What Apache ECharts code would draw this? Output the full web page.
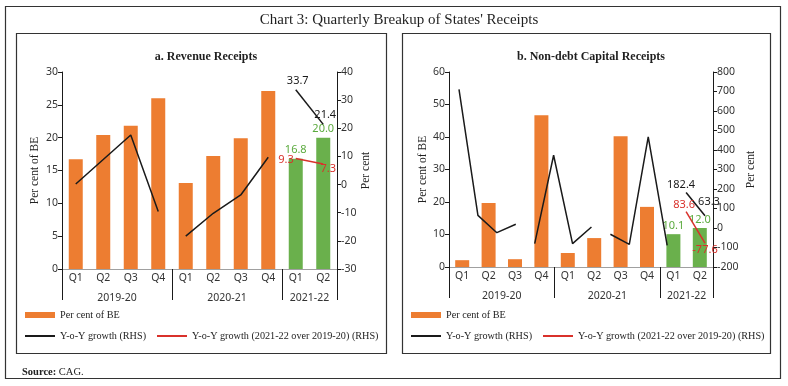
<!DOCTYPE html>
<html><head><meta charset="utf-8">
<script src="https://cdn.jsdelivr.net/npm/echarts@6/dist/echarts.min.js"></script>
<style>html,body{margin:0;padding:0;background:#fff}#c{width:788px;height:386px}</style>
</head><body><div id="c"></div>
<script>
// ---------- data ----------
const quarterLabels = ['Q1','Q2','Q3','Q4','Q1','Q2','Q3','Q4','Q1','Q2'];
const yearLabels = ['2019-20','2020-21','2021-22'];
const quartersPerYear = [4, 4, 2];

// a. Revenue Receipts
const revenueShareBE = [16.7, 20.4, 21.8, 26.0, 13.1, 17.2, 19.9, 27.1, 16.8, 20.0];
const revenueYoY = [0.2, 8.9, 17.6, -9.6, -18.3, -10.2, -3.7, 9.7, 33.7, 21.4];
const revenueYoYSegments = [4, 4, 2];
const revenueYoYOver2019 = [9.3, 7.3];
const revenueLeftTicks = [0, 5, 10, 15, 20, 25, 30];
const revenueRightTicks = [-30, -20, -10, 0, 10, 20, 30, 40];

// b. Non-debt Capital Receipts
const ndcShareBE = [2.1, 19.7, 2.4, 46.7, 4.3, 8.9, 40.2, 18.5, 10.1, 12.0];
const ndcYoY = [711, 65, -24, 19, -80, 373, -80, 5, -32, -84, 467, -89, 182.4, 63.3];
const ndcYoYSegments = [4, 4, 4, 2];
const ndcYoYOver2019 = [83.6, -77.6];
const ndcLeftTicks = [0, 10, 20, 30, 40, 50, 60];
const ndcRightTicks = [-200, -100, 0, 100, 200, 300, 400, 500, 600, 700, 800];

const legendBar = 'Per cent of BE';
const legendYoY = 'Y-o-Y growth (RHS)';
const legendYoY2 = 'Y-o-Y growth (2021-22 over 2019-20) (RHS)';

// ---------- style ----------
const SANS = 'Noto Sans';
const SERIF = 'Liberation Serif';
const ORANGE = '#ED7D31';
const GREEN = '#6AB04C';
const GREEN_TXT = '#5BAA3E';
const RED = '#D9312B';
const BLACK = '#1a1a1a';
const TICK_TXT = '#333';

const yearBounds = [0];
quartersPerYear.forEach(n => yearBounds.push(yearBounds[yearBounds.length - 1] + n));
const yearMids = quartersPerYear.map((n, i) => yearBounds[i] + n / 2);
const nCat = quarterLabels.length;
const nNewYear = quartersPerYear[quartersPerYear.length - 1];

function segments(values, counts) {
  const out = []; let start = 0;
  counts.forEach(n => {
    out.push(values.map((v, i) => (i >= start && i < start + n) ? v : null));
    start += n;
  });
  return out;
}
function withLabels(arr, labelCfgs) {
  const res = arr.slice();
  const n = labelCfgs.length;
  const len = res.length;
  for (let k = 0; k < n; k++) {
    const i = len - n + k;
    if (res[i] !== null) res[i] = { value: res[i], label: Object.assign({ show: true, fontFamily: SANS, fontSize: 11, formatter: p => Number(p.value).toFixed(1) }, labelCfgs[k]) };
  }
  return res;
}
function barData(values) {
  return values.map((v, i) => i >= nCat - nNewYear
    ? { value: v, itemStyle: { color: GREEN }, label: { show: true, position: 'top', color: GREEN_TXT, fontFamily: SANS, fontSize: 11, distance: 3, formatter: p => p.value.toFixed(1) } }
    : v);
}
function padToEnd(vals, total) {
  return Array(total - vals.length).fill(null).concat(vals);
}

function catAxis(grid) {
  return {
    gridIndex: grid, type: 'category', data: quarterLabels, position: 'bottom', offset: 0,
    axisLine: { onZero: false, lineStyle: { color: '#a0a0a0', width: 1 } },
    axisTick: { length: 3, lineStyle: { color: '#555' } },
    axisLabel: { margin: 4, fontFamily: SANS, fontSize: 10.5, color: TICK_TXT }
  };
}
function yearAxis(grid) {
  return {
    gridIndex: grid, type: 'value', min: 0, max: nCat, position: 'bottom', offset: 0,
    axisLine: { show: false }, splitLine: { show: false },
    axisTick: { show: true, customValues: yearBounds, length: 31, lineStyle: { color: BLACK, width: 1 } },
    axisLabel: { customValues: yearMids, margin: 24, fontFamily: SANS, fontSize: 10.5, color: TICK_TXT,
      formatter: v => yearLabels[yearMids.indexOf(v)] || '' }
  };
}
function valAxis(grid, ticks, pos, name, gap) {
  return {
    gridIndex: grid, type: 'value', position: pos,
    min: ticks[0], max: ticks[ticks.length - 1], interval: ticks[1] - ticks[0],
    splitLine: { show: false },
    axisLine: { show: true, onZero: false, lineStyle: { color: BLACK, width: 1 } },
    axisTick: { show: true, length: 4, lineStyle: { color: BLACK } },
    axisLabel: { margin: 4, fontFamily: SANS, fontSize: 10.5, color: TICK_TXT },
    name: name, nameLocation: 'middle', nameRotate: 90, nameGap: gap,
    nameTextStyle: { fontFamily: SERIF, fontSize: 11.5, color: '#222' }
  };
}

const revSegs = segments(revenueYoY, revenueYoYSegments);
const ndcSegs = segments(ndcYoY, ndcYoYSegments);

const lineBase = { type: 'line', symbol: 'circle', symbolSize: 0, showSymbol: true, connectNulls: false, lineStyle: { width: 1.5 }, z: 3 };

const series = [];
// panel a
series.push({ type: 'bar', name: legendBar, xAxisIndex: 0, yAxisIndex: 0, barWidth: 14,
  itemStyle: { color: ORANGE }, data: barData(revenueShareBE) });
revSegs.forEach((seg, si) => {
  const data = si === revSegs.length - 1
    ? withLabels(seg, [{ position: 'top', color: BLACK, distance: 3, offset: [2, 0] }, { position: 'top', color: BLACK, distance: 4, offset: [2, 0] }])
    : seg;
  series.push(Object.assign({}, lineBase, { name: legendYoY, xAxisIndex: 0, yAxisIndex: 1, color: BLACK, data }));
});
series.push(Object.assign({}, lineBase, { name: legendYoY2, xAxisIndex: 0, yAxisIndex: 1, color: RED,
  data: withLabels(padToEnd(revenueYoYOver2019, nCat), [
    { position: 'left', color: RED, distance: 2, offset: [0, 1] },
    { position: 'bottom', color: RED, distance: 0, offset: [5, -1] }]) }));
// panel b
series.push({ type: 'bar', name: legendBar, xAxisIndex: 2, yAxisIndex: 2, barWidth: 14,
  itemStyle: { color: ORANGE }, data: barData(ndcShareBE) });
ndcSegs.forEach((seg, si) => {
  const data = si === ndcSegs.length - 1
    ? withLabels(seg, [{ position: 'top', color: BLACK, distance: 2, offset: [-5, 0] }, { position: 'top', color: BLACK, distance: 8, offset: [4, 0] }])
    : seg;
  series.push(Object.assign({}, lineBase, { name: legendYoY, xAxisIndex: 4, yAxisIndex: 4, color: BLACK, data }));
});
series.push(Object.assign({}, lineBase, { name: legendYoY2, xAxisIndex: 4, yAxisIndex: 4, color: RED,
  data: withLabels(padToEnd(ndcYoYOver2019, ndcYoY.length), [
    { position: 'top', color: RED, distance: 1, offset: [-2, 0] },
    { position: 'bottom', color: RED, distance: 1, offset: [0, 0] }]) }));

const ndcLineCats = ndcYoY.map((_, i) => String(i));

function legends(left) {
  const ts = { fontFamily: SERIF, fontSize: 10.2, color: '#222' };
  return [
    { left: left, top: 310, padding: 0, width: 380, itemWidth: 30, itemHeight: 6, icon: 'rect', itemGap: 14, textStyle: ts,
      selectedMode: false, data: [legendBar] },
    { left: left, top: 331, padding: 0, width: 380, itemWidth: 30, itemHeight: 2, icon: 'rect', itemGap: 11, textStyle: ts,
      selectedMode: false, data: [legendYoY, legendYoY2] }
  ];
}

const option = {
  animation: false,
  backgroundColor: '#fff',
  title: [
    { text: "Chart 3: Quarterly Breakup of States' Receipts", left: 394, top: 8, textAlign: 'center',
      textStyle: { fontFamily: SERIF, fontSize: 15, fontWeight: 'normal', color: '#1f1f1f' } },
    { text: 'a. Revenue Receipts', left: 201, top: 46, textAlign: 'center',
      textStyle: { fontFamily: SERIF, fontSize: 12, fontWeight: 'bold', color: '#1f1f1f' } },
    { text: 'b. Non-debt Capital Receipts', left: 586, top: 46, textAlign: 'center',
      textStyle: { fontFamily: SERIF, fontSize: 12, fontWeight: 'bold', color: '#1f1f1f' } },
    { text: '{b|Source:} CAG.', left: 17, top: 362,
      textStyle: { fontFamily: SERIF, fontSize: 10.5, fontWeight: 'normal', color: '#222',
        rich: { b: { fontFamily: SERIF, fontSize: 10.5, fontWeight: 'bold', color: '#222' } } } }
  ],
  legend: legends(25).concat(legends(411)),
  grid: [
    { left: 62, top: 72, width: 275, height: 197 },
    { left: 449, top: 72, width: 264, height: 195 },
    { left: 459, top: 72, width: 246, height: 195 }
  ],
  xAxis: [
    catAxis(0), yearAxis(0), catAxis(1), yearAxis(1),
    { gridIndex: 2, type: 'category', data: ndcLineCats, boundaryGap: false, show: false }
  ],
  yAxis: [
    valAxis(0, revenueLeftTicks, 'left', 'Per cent of BE', 21),
    valAxis(0, revenueRightTicks, 'right', 'Per cent', 20),
    valAxis(1, ndcLeftTicks, 'left', 'Per cent of BE', 19),
    valAxis(1, ndcRightTicks, 'right', 'Per cent', 32),
    { gridIndex: 2, type: 'value', min: ndcRightTicks[0], max: ndcRightTicks[ndcRightTicks.length - 1], show: false }
  ],
  series: series,
  graphic: [
    { type: 'rect', shape: { x: 5.5, y: 6.5, width: 775, height: 372 }, style: { fill: 'none', stroke: '#333', lineWidth: 1.2 }, silent: true },
    { type: 'rect', shape: { x: 16.5, y: 33.5, width: 370, height: 320 }, style: { fill: 'none', stroke: '#333', lineWidth: 1.2 }, silent: true },
    { type: 'rect', shape: { x: 402.5, y: 33.5, width: 368, height: 320 }, style: { fill: 'none', stroke: '#333', lineWidth: 1.2 }, silent: true }
  ]
};
const chart = echarts.init(document.getElementById('c'), null, { renderer: 'canvas' });
chart.setOption(option);
</script></body></html>
